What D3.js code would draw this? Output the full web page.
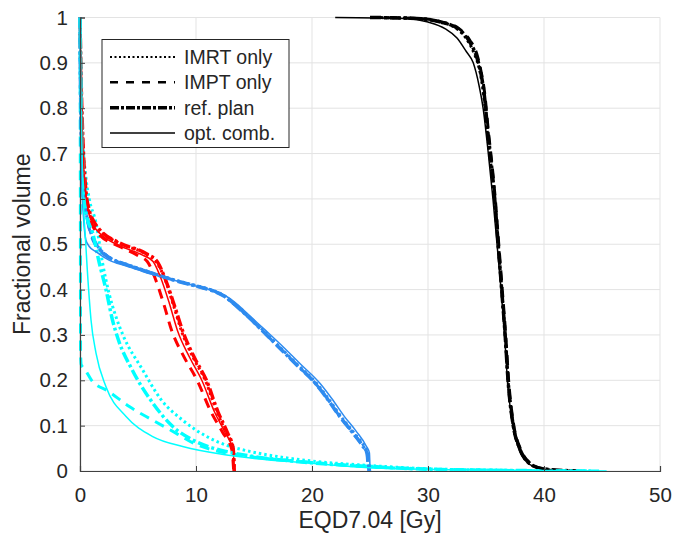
<!DOCTYPE html>
<html>
<head>
<meta charset="utf-8">
<script src="https://cdn.jsdelivr.net/npm/d3@7"></script>
<style>
  body { margin: 0; background: #fff; }
  text { font-family: "Liberation Sans", Arial, sans-serif; fill: #262626; }
</style>
</head>
<body>
<svg id="chart" width="674" height="541"></svg>
<script>
// tick values
var xTicks = [0, 10, 20, 30, 40, 50]
var yTicks = [0, 0.1, 0.2, 0.3, 0.4, 0.5, 0.6, 0.7, 0.8, 0.9, 1]

// legend entries
var planNames = ["IMRT only", "IMPT only", "ref. plan", "opt. comb."]

// target (black)
var targetIMRT = [[25,1],[29,0.998],[31,0.99],[32.5,0.975],[33.4,0.95],[34,0.92],[34.4,0.89],[34.8,0.83],[35.1,0.75],[35.4,0.68],[35.75,0.6],[36.05,0.5],[36.35,0.4],[36.65,0.3],[36.9,0.2],[37.35,0.1],[37.9,0.05],[38.6,0.02],[39.8,0.005],[42,0]]
var targetIMPT = [[25,1],[29.2,0.998],[31.2,0.99],[32.7,0.975],[33.6,0.95],[34.2,0.92],[34.5,0.89],[34.9,0.83],[35.2,0.75],[35.5,0.68],[35.8,0.6],[36.1,0.5],[36.4,0.4],[36.7,0.3],[36.95,0.2],[37.4,0.1],[37.95,0.05],[38.7,0.02],[39.9,0.005],[42.5,0]]
var targetRef = [[25,1],[29,0.998],[31.1,0.99],[32.6,0.975],[33.5,0.95],[34.1,0.92],[34.45,0.89],[34.85,0.83],[35.15,0.75],[35.45,0.68],[35.75,0.6],[36.05,0.5],[36.35,0.4],[36.65,0.3],[36.9,0.2],[37.35,0.1],[37.9,0.05],[38.6,0.02],[39.9,0.005],[42.8,0]]
var targetOpt = [[22,1],[28,0.998],[30,0.99],[31.5,0.975],[32.5,0.955],[33.3,0.925],[33.9,0.9],[34.4,0.85],[34.75,0.8],[35.2,0.7],[35.6,0.6],[35.95,0.5],[36.3,0.4],[36.6,0.3],[36.85,0.2],[37.3,0.1],[37.8,0.05],[38.5,0.02],[39.7,0.005],[41,0.001],[42.8,0]]

// organ 1 (red)
var redIMRT = [[0,1],[0.1,0.85],[0.3,0.68],[0.5,0.61],[0.8,0.57],[1.2,0.545],[1.7,0.53],[3.4,0.502],[5.7,0.478],[6.6,0.46],[7.3,0.425],[8.1,0.362],[8.8,0.305],[9.8,0.248],[10.8,0.2],[11.8,0.13],[12.6,0.085],[13.2,0.05],[13.3,0]]
var redIMPT = [[0,1],[0.1,0.83],[0.3,0.66],[0.5,0.6],[0.8,0.56],[1.2,0.535],[1.7,0.52],[3.4,0.495],[5,0.475],[5.8,0.462],[6.4,0.43],[7.2,0.37],[7.9,0.31],[9,0.25],[10.1,0.2],[11.3,0.13],[12.3,0.085],[13.1,0.046],[13.25,0]]
var redRef = [[0,1],[0.1,0.86],[0.3,0.7],[0.5,0.62],[0.8,0.575],[1.2,0.55],[1.7,0.532],[3.4,0.503],[5.8,0.478],[6.7,0.46],[7.4,0.42],[8.2,0.36],[8.9,0.305],[9.9,0.248],[10.9,0.2],[11.9,0.13],[12.7,0.085],[13.2,0.05],[13.3,0]]
var redOpt = [[0,1],[0.1,0.85],[0.3,0.68],[0.5,0.61],[0.8,0.565],[1.2,0.54],[1.7,0.524],[3.4,0.497],[5.4,0.476],[6.3,0.462],[6.9,0.43],[7.7,0.37],[8.4,0.31],[9.5,0.248],[10.5,0.2],[11.6,0.13],[12.5,0.085],[13.2,0.046],[13.3,0]]

// organ 2 (blue)
var blueIMRT = [[0,1],[0.05,0.82],[0.2,0.66],[0.4,0.59],[0.7,0.55],[1.1,0.515],[1.6,0.493],[2.5,0.472],[4,0.456],[5.4,0.444],[8.2,0.421],[10.7,0.404],[11.6,0.397],[12.4,0.387],[13.2,0.372],[14,0.354],[14.8,0.335],[15.8,0.31],[17.2,0.274],[18.7,0.236],[20.4,0.193],[21.4,0.16],[22.5,0.12],[23.5,0.088],[24.5,0.054],[24.8,0.039],[24.88,0.01],[24.93,0]]
var blueIMPT = [[0,1],[0.05,0.82],[0.2,0.66],[0.4,0.59],[0.7,0.545],[1.1,0.51],[1.6,0.49],[2.5,0.47],[4,0.455],[5.4,0.443],[8.2,0.42],[10.7,0.403],[11.6,0.396],[12.4,0.386],[13.1,0.372],[13.9,0.354],[14.7,0.335],[15.7,0.31],[17.1,0.274],[18.6,0.236],[20.3,0.193],[21.3,0.16],[22.4,0.12],[23.4,0.088],[24.4,0.054],[24.75,0.039],[24.85,0.01],[24.9,0]]
var blueRef = [[0,1],[0.05,0.83],[0.2,0.67],[0.4,0.6],[0.7,0.55],[1.1,0.515],[1.6,0.492],[2.5,0.471],[4,0.455],[5.4,0.443],[8.2,0.42],[10.7,0.403],[11.6,0.396],[12.4,0.386],[13.1,0.372],[13.9,0.354],[14.7,0.335],[15.7,0.31],[17.1,0.274],[18.6,0.236],[20.3,0.193],[21.3,0.16],[22.4,0.12],[23.4,0.088],[24.4,0.054],[24.75,0.039],[24.85,0.01],[24.9,0]]
var blueOpt = [[0,1],[0.05,0.8],[0.15,0.64],[0.3,0.56],[0.5,0.51],[0.8,0.495],[1.4,0.483],[2.5,0.465],[4,0.452],[5.4,0.44],[8.2,0.42],[10.7,0.403],[11.6,0.397],[12.5,0.387],[13.3,0.373],[14.1,0.355],[14.9,0.336],[16,0.31],[17.5,0.274],[19,0.236],[20.7,0.193],[21.7,0.16],[22.8,0.12],[23.8,0.088],[24.7,0.054],[24.95,0.04],[25,0.01],[25.05,0]]

// organ 3 (cyan)
var cyanIMRT = [[0,1],[0.2,0.75],[0.5,0.65],[0.8,0.6],[1.38,0.547],[1.95,0.458],[2.5,0.392],[3.1,0.34],[3.7,0.3],[5.4,0.223],[7,0.157],[8.85,0.112],[11,0.075],[12.6,0.057],[14,0.047],[17,0.032],[20,0.022],[25,0.012],[30,0.005],[38,0.001],[44,0]]
var cyanIMPT = [[0,1],[0.03,0.6],[0.05,0.26],[0.1,0.235],[0.4,0.225],[1,0.2],[2.5,0.175],[4.25,0.142],[6.27,0.112],[8.3,0.083],[9.8,0.061],[12,0.043],[13.5,0.036],[20,0.019],[26,0.008],[35,0.002],[45,0]]
var cyanRef = [[0,1],[0.15,0.75],[0.3,0.64],[0.5,0.57],[1.1,0.524],[1.67,0.458],[2.24,0.4],[2.8,0.333],[3.3,0.29],[4.5,0.223],[6.27,0.15],[8,0.098],[9.75,0.068],[12.6,0.043],[14,0.036],[20,0.018],[25,0.01],[30,0.004],[38,0.001],[44,0]]
var cyanOpt = [[0,1],[0.1,0.8],[0.23,0.64],[0.5,0.5],[0.8,0.38],[0.95,0.333],[1.38,0.26],[2.24,0.186],[3.97,0.12],[6.27,0.076],[8.85,0.054],[13,0.034],[20,0.017],[26,0.006],[35,0.002],[45.4,0]]

var styles = {
  dotted:  {width: 3,   dash: "2.5,3"},
  dashed:  {width: 3,   dash: "10,7"},
  dashdot: {width: 3.5, dash: "11,3,3,3"},
  solid:   {width: 1.5, dash: null}
}
var legendStyles = {
  dotted:  {width: 2,   dash: "2,2.5"},
  dashed:  {width: 2.5, dash: "8,8"},
  dashdot: {width: 3.5, dash: "9,2,3,2"},
  solid:   {width: 1.3, dash: null}
}

var curves = [
  {data: targetIMRT, color: "#000", style: "dotted"},
  {data: redIMRT, color: "#ff0000", style: "dotted"},
  {data: blueIMRT, color: "#2e8bef", style: "dotted"},
  {data: cyanIMRT, color: "#00ffff", style: "dotted"},
  {data: targetIMPT, color: "#000", style: "dashed"},
  {data: redIMPT, color: "#ff0000", style: "dashed"},
  {data: blueIMPT, color: "#2e8bef", style: "dashed"},
  {data: cyanIMPT, color: "#00ffff", style: "dashed"},
  {data: targetRef, color: "#000", style: "dashdot"},
  {data: redRef, color: "#ff0000", style: "dashdot"},
  {data: blueRef, color: "#2e8bef", style: "dashdot"},
  {data: cyanRef, color: "#00ffff", style: "dashdot"},
  {data: targetOpt, color: "#000", style: "solid"},
  {data: redOpt, color: "#ff0000", style: "solid"},
  {data: blueOpt, color: "#2e8bef", style: "solid"},
  {data: cyanOpt, color: "#00ffff", style: "solid"}
]

var svg = d3.select("#chart")
var plotLeft = 80, plotRight = 660, plotTop = 17.5, plotBottom = 471

var scaleX = d3.scaleLinear().domain([0, 50]).range([plotLeft, plotRight])
var scaleY = d3.scaleLinear().domain([0, 1]).range([plotBottom, plotTop])

// grid
svg.append("g").selectAll("line").data(xTicks).enter().append("line")
    .attr("x1", d => scaleX(d)).attr("x2", d => scaleX(d))
    .attr("y1", plotTop).attr("y2", plotBottom)
    .attr("stroke", "#e3e3e3").attr("stroke-width", 1)
svg.append("g").selectAll("line").data(yTicks).enter().append("line")
    .attr("x1", plotLeft).attr("x2", plotRight)
    .attr("y1", d => scaleY(d)).attr("y2", d => scaleY(d))
    .attr("stroke", "#e3e3e3").attr("stroke-width", 1)

svg.append("clipPath").attr("id", "clip").append("rect")
    .attr("x", plotLeft - 3).attr("y", plotTop - 3)
    .attr("width", plotRight - plotLeft + 6).attr("height", plotBottom - plotTop + 4)

var line = d3.line()
    .x(d => scaleX(d[0]))
    .y(d => scaleY(d[1]))
    .curve(d3.curveMonotoneX)

svg.append("g").attr("clip-path", "url(#clip)")
    .selectAll("path").data(curves).enter().append("path")
    .attr("d", d => line(d.data))
    .attr("fill", "none")
    .attr("stroke", d => d.color)
    .attr("stroke-width", d => styles[d.style].width)
    .attr("stroke-dasharray", d => styles[d.style].dash)
    .attr("stroke-linejoin", "round")

// axes
var axisX = d3.axisBottom(scaleX).tickValues(xTicks).tickSize(-5).tickPadding(16)
var axisY = d3.axisLeft(scaleY).tickValues(yTicks).tickSize(-5).tickPadding(12)
    .tickFormat(d => d === 0 || d === 1 ? d : d3.format(".1f")(d))

var gx = svg.append("g").attr("transform", "translate(0," + plotBottom + ")").call(axisX)
var gy = svg.append("g").attr("transform", "translate(" + plotLeft + ",0)").call(axisY)
;[gx, gy].forEach(g => {
  g.select(".domain").attr("stroke", "#404040").attr("stroke-width", 1.2)
  g.selectAll(".tick line").attr("stroke", "#404040")
  g.selectAll(".tick text").attr("font-size", 20.5).attr("fill", "#262626")
      .attr("font-family", "Liberation Sans, Arial, sans-serif")
})

svg.append("text").attr("x", 370).attr("y", 528)
    .attr("text-anchor", "middle").attr("font-size", 23).text("EQD7.04 [Gy]")
svg.append("text").attr("transform", "translate(30," + ((plotTop + plotBottom) / 2) + ") rotate(-90)")
    .attr("text-anchor", "middle").attr("font-size", 23).text("Fractional volume")

// legend
var legend = svg.append("g")
legend.append("rect").attr("x", 102).attr("y", 39.5).attr("width", 187).attr("height", 108)
    .attr("fill", "#fff").attr("stroke", "#262626").attr("stroke-width", 1)
var legendKeys = ["dotted", "dashed", "dashdot", "solid"]
var rowY = d3.scalePoint().domain(planNames).range([57, 133])
var rows = legend.selectAll("g.row").data(planNames).enter().append("g")
    .attr("transform", d => "translate(0," + rowY(d) + ")")
rows.append("line").attr("x1", 110).attr("x2", 175).attr("y1", 0).attr("y2", 0)
    .attr("stroke", "#000")
    .attr("stroke-width", (d, i) => legendStyles[legendKeys[i]].width)
    .attr("stroke-dasharray", (d, i) => legendStyles[legendKeys[i]].dash)
rows.append("text").attr("x", 184).attr("y", 7).attr("font-size", 19.5).text(d => d)
</script>
</body>
</html>
